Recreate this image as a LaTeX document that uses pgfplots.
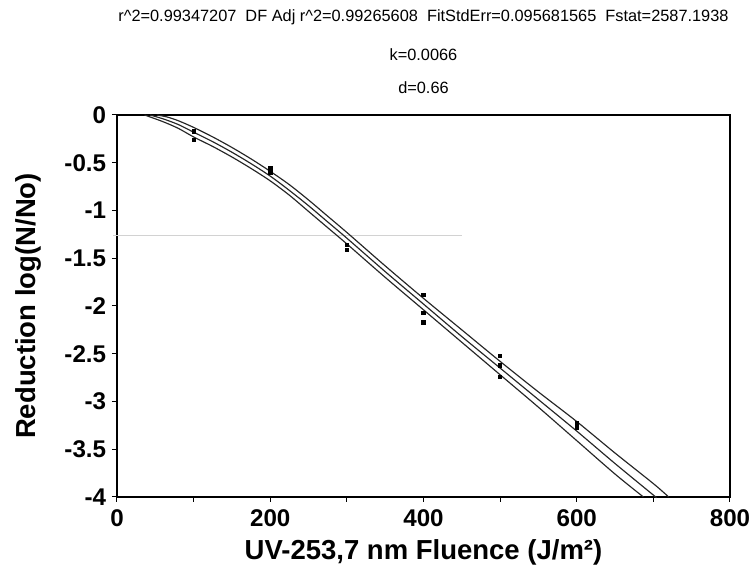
\documentclass[border=0pt]{standalone}
\usepackage{pgfplots}
\pgfplotsset{compat=1.18}
\usepackage{fontspec}
\setmainfont{Liberation Sans}

\begin{document}
\begin{tikzpicture}
\useasboundingbox (-70.2pt,-43.8pt) rectangle (383.4pt,298.2pt);
\begin{axis}[
    scale only axis,
    width=367.8pt,
    height=229.2pt,
    xmin=0, xmax=800,
    ymin=-4, ymax=0,
    xtick={0,200,...,800},
    minor xtick={100,300,500,700},
    ytick={-4,-3.5,...,0},
    yticklabels={-4,-3.5,-3,-2.5,-2,-1.5,-1,-0.5,0},
    xtick pos=left, ytick pos=left,
    tick align=outside,
    major tick length=3pt, minor tick length=3pt,
    tick style={black, line width=0.6pt},
    axis line style={line width=0.9pt},
    ticklabel style={font=\fontsize{14.5}{16}\selectfont\bfseries},
    /pgf/number format/assume math mode=true,
    xticklabel style={yshift=-1pt},
    xlabel={UV-253,7 nm Fluence (J/m²)},
    ylabel={Reduction log(N/No)},
    label style={font=\fontsize{16.5}{18}\selectfont\bfseries},
    xlabel style={yshift=-1pt},
    ylabel style={yshift=7pt},
    clip=false,
]
% scan line artefact
\addplot[gray!35, line width=0.5pt] coordinates {(-5,-1.26) (450,-1.26)};

% fit curve and confidence bands
\addplot[black!85, line width=0.7pt, smooth] table {
x y
43 0
60 -0.04
80 -0.10
100 -0.18
125 -0.28
150 -0.39
175 -0.51
200 -0.64
225 -0.79
250 -0.95
275 -1.12
300 -1.29
350 -1.64
400 -1.98
450 -2.32
500 -2.65
550 -2.98
600 -3.31
650 -3.65
700 -3.98
703 -4.0
};
\addplot[black!85, line width=0.7pt, smooth] table {
x y
52 0
65 -0.02
80 -0.06
100 -0.13
125 -0.23
150 -0.34
175 -0.46
200 -0.59
225 -0.73
250 -0.89
275 -1.06
300 -1.23
350 -1.58
400 -1.92
450 -2.25
500 -2.58
550 -2.90
600 -3.21
650 -3.54
700 -3.86
720 -4.0
};
\addplot[black!85, line width=0.7pt, smooth] table {
x y
36 0
60 -0.07
80 -0.14
100 -0.23
125 -0.33
150 -0.44
175 -0.56
200 -0.69
225 -0.84
250 -1.01
275 -1.18
300 -1.35
350 -1.70
400 -2.04
450 -2.38
500 -2.72
550 -3.06
600 -3.41
650 -3.76
687 -4.0
};

% measured points
\addplot[only marks, mark=square*, mark size=1pt, black] table {
x y
100 -0.17
100 -0.26
200 -0.55
200 -0.60
300 -1.36
300 -1.41
400 -1.88
400 -2.07
400 -2.17
500 -2.52
500 -2.62
500 -2.74
600 -3.23
600 -3.27
};

\node[font=\fontsize{9.8}{11}\selectfont, anchor=center] at (rel axis cs:0.5,1) [yshift=58.8pt]
  {r\^{}2=0.99347207\ \ DF Adj r\^{}2=0.99265608\ \ FitStdErr=0.095681565\ \ Fstat=2587.1938};
\node[font=\fontsize{9.8}{11}\selectfont, anchor=center] at (rel axis cs:0.5,1) [yshift=36pt] {k=0.0066};
\node[font=\fontsize{9.8}{11}\selectfont, anchor=center] at (rel axis cs:0.5,1) [yshift=16.2pt] {d=0.66};
\end{axis}
\end{tikzpicture}
\end{document}
